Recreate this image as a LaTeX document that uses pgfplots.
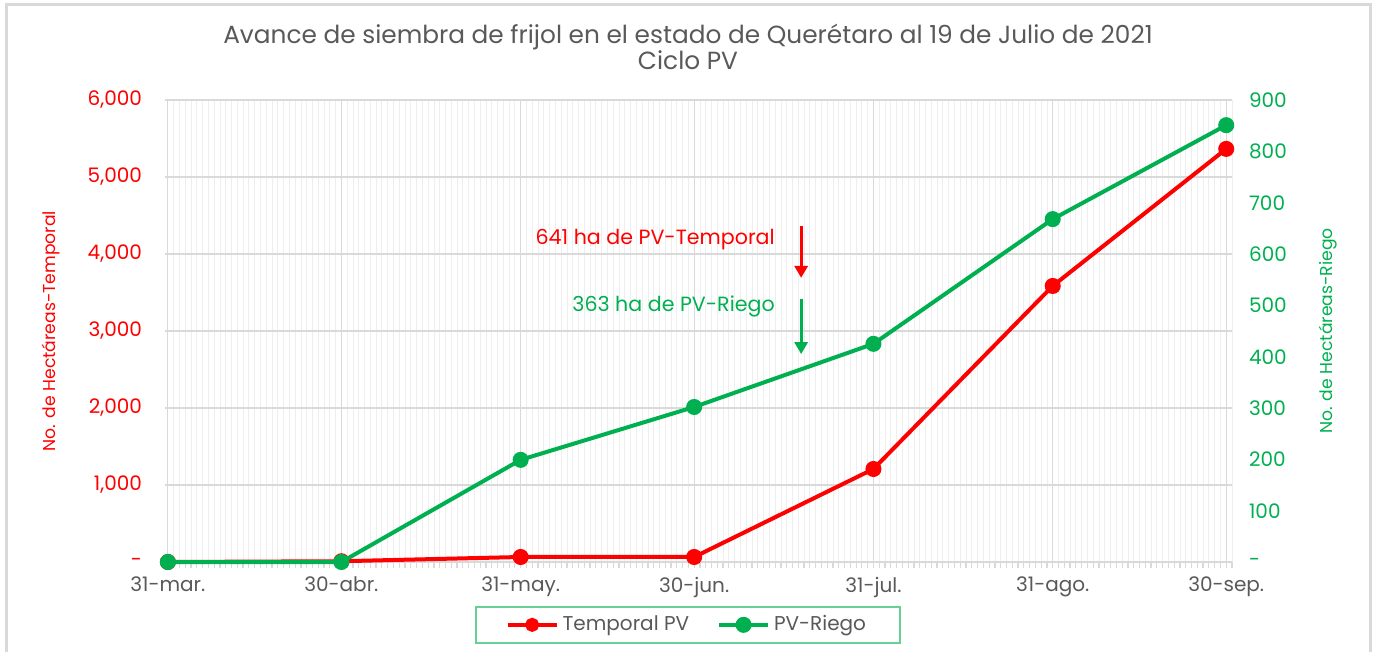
\documentclass[border=0pt]{standalone}
\usepackage{pgfplots}
\pgfplotsset{compat=1.18}
\usetikzlibrary{arrows.meta}
\usepackage{fontspec}
\setmainfont{Poppins}
\definecolor{cred}{HTML}{FF0000}
\definecolor{cgreen}{HTML}{00B050}
\definecolor{ctxt}{HTML}{595959}
\definecolor{cgrid}{HTML}{D9D9D9}
\definecolor{cminor}{HTML}{EEEEEE}
\begin{document}
\begin{tikzpicture}
\useasboundingbox (0pt,0pt) rectangle (688pt,-326pt);
\draw[color=cgrid,line width=1.5pt] (3pt,-2.5pt) rectangle (685pt,-330pt);
\node[font=\fontsize{12.4}{14}\selectfont,text=ctxt,align=center] at (344pt,-23.5pt) {Avance de siembra de frijol en el estado de Querétaro al 19 de Julio de 2021\\[-1pt]Ciclo PV};
\pgfplotsset{
  common/.style={
    scale only axis, width=533.5pt, height=231pt,
    at={(82.5pt,-281pt)}, anchor=south west,
    xmin=-0.5, xmax=184,
    ymin=0,
    xtick={0,30,61,91,122,153,183},
    minor xtick={0,1,...,184},
    ytick style={draw=none},
    minor tick style={draw=none},
    /pgf/number format/assume math mode=true,
    tick label style={font=\fontsize{10}{11}\selectfont},
  }
}
\begin{axis}[common,
  ymax=6000,
  axis y line*=left,
  axis x line*=bottom,
  y axis line style={draw=none},
  x axis line style={draw=cgrid,line width=1.2pt,-},
  xtick style={draw=cgrid,line width=0.6pt},
  tick align=outside, major tick length=3pt,
  xticklabels={31-mar.,30-abr.,31-may.,30-jun.,31-jul.,31-ago.,30-sep.},
  xticklabel style={text=ctxt,yshift=-1pt},
  ytick={0,1000,...,6000},
  yticklabels={-,{1,000},{2,000},{3,000},{4,000},{5,000},{6,000}},
  yticklabel style={text=cred,xshift=-5pt},
  ymajorgrids, xmajorgrids, xminorgrids,
  major grid style={draw=cgrid,line width=0.6pt},
  minor grid style={draw=cminor,line width=0.4pt},
  ylabel={No. de Hectáreas-Temporal},
  ylabel style={text=cred,font=\fontsize{8.6}{10}\selectfont,yshift=7pt},
  clip=false,
]
\addplot[cred,line width=2pt,mark=*,mark size=3pt,mark options={fill=cred,draw=cred}] coordinates {
(0,0) (30,10) (61,65) (91,65) (122,1208) (153,3585) (183,5365)};
\draw[cred,line width=1.5pt,-{Triangle[width=6.5pt,length=6pt]}] (axis cs:109.5,4370) -- (axis cs:109.5,3690);
\draw[cgreen,line width=1.5pt,-{Triangle[width=6.5pt,length=6pt]}] (axis cs:109.5,3420) -- (axis cs:109.5,2700);
\node[anchor=east,inner sep=0pt,text=cred,font=\fontsize{10.3}{11}\selectfont] at (axis cs:105,4190) {641 ha de PV-Temporal};
\node[anchor=east,inner sep=0pt,text=cgreen,font=\fontsize{10.3}{11}\selectfont] at (axis cs:105,3320) {363 ha de PV-Riego};
\end{axis}
\begin{axis}[common,
  ymax=900,
  axis y line*=right,
  axis x line=none,
  y axis line style={draw=none},
  ytick={0,100,...,900},
  yticklabels={-,100,200,300,400,500,600,700,800,900},
  yticklabel style={text=cgreen,xshift=5pt},
  ylabel={No. de Hectáreas-Riego},
  ylabel style={text=cgreen,font=\fontsize{8.6}{10}\selectfont,yshift=-9pt},
  legend style={at={(0.49,-0.136)},anchor=center,draw=cgreen!60,line width=0.8pt,
    legend columns=2,font=\fontsize{10}{11}\selectfont,text=ctxt,
    inner xsep=15pt, inner ysep=2.5pt,
    /tikz/every even column/.append style={column sep=12pt}},
  legend image code/.code={\draw[mark repeat=2,mark phase=2,#1] plot coordinates {(0cm,0cm) (0.43cm,0cm) (0.86cm,0cm)};},
  clip=false,
]
\addlegendimage{cred,line width=2pt,mark=*,mark size=2.5pt,mark options={fill=cred,draw=cred}}
\addlegendentry{Temporal PV}
\addplot[cgreen,line width=2pt,mark=*,mark size=3pt,mark options={fill=cgreen,draw=cgreen}] coordinates {
(0,0) (30,0) (61,199) (91,302) (122,425) (153,668) (183,851)};
\addlegendentry{PV-Riego}
\end{axis}
\end{tikzpicture}
\end{document}
